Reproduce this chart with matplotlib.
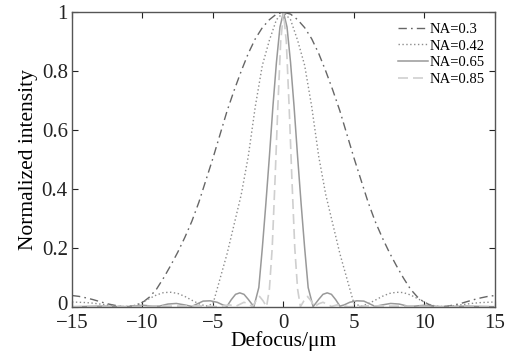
import numpy as np
import matplotlib.pyplot as plt
import matplotlib.transforms as mtransforms

plt.rcParams['font.family'] = ['Liberation Serif', 'DejaVu Serif']
plt.rcParams['mathtext.fontset'] = 'stix'

# values, one side of the focus (curves are symmetric)
z_03 = [0, 0.5, 1, 1.5, 2, 2.5, 3, 3.5, 4, 4.5, 5, 5.5, 6, 6.5, 7, 7.5, 8,
        8.5, 9, 9.5, 10, 10.5, 11, 11.5, 12, 12.5, 13, 13.5, 14, 14.5, 15]
i_03 = [1.0, 0.994, 0.975, 0.948, 0.91, 0.86, 0.80, 0.735, 0.665, 0.585, 0.505,
        0.43, 0.355, 0.29, 0.235, 0.185, 0.14, 0.098, 0.06, 0.033, 0.014,
        0.004, 0.0, 0.001, 0.005, 0.01, 0.017, 0.024, 0.03, 0.035, 0.038]

z_042 = [0, 0.5, 1, 1.5, 2, 2.5, 3, 3.5, 4, 4.5, 5, 5.5, 6, 6.5, 7, 7.5, 8,
         8.5, 9, 9.5, 10, 10.5, 11, 11.5, 12, 12.5, 13, 13.5, 14, 14.5, 15]
i_042 = [1.0, 0.975, 0.905, 0.82, 0.68, 0.51, 0.38, 0.28, 0.18, 0.095, 0.01,
         0.002, 0.01, 0.022, 0.035, 0.045, 0.049, 0.048, 0.04, 0.028, 0.015,
         0.005, 0.001, 0.001, 0.003, 0.006, 0.009, 0.012, 0.014, 0.015, 0.016]

z_065 = [0, 0.25, 0.5, 0.75, 1.0, 1.25, 1.5, 1.75, 2.1, 2.5, 2.8, 3.1, 3.4,
         3.7, 4.0, 4.3, 4.7, 5.2, 5.7, 6.1, 6.5, 7.0, 7.6, 8.2, 8.8, 9.3,
         10.0, 10.6, 11.2, 12, 13, 14, 15]
i_065 = [1.0, 0.95, 0.83, 0.68, 0.51, 0.35, 0.2, 0.065, 0.0, 0.025, 0.042,
         0.047, 0.042, 0.024, 0.002, 0.006, 0.015, 0.02, 0.019, 0.01, 0.001,
         0.006, 0.011, 0.009, 0.002, 0.002, 0.005, 0.002, 0.0, 0.001, 0.002,
         0.001, 0.0]

z_085 = [0, 0.2, 0.4, 0.6, 0.8, 1.0, 1.2, 1.45, 1.7, 1.95, 2.2, 2.5, 2.8,
         3.1, 3.4, 3.8, 4.2, 4.6, 6, 8, 10, 12, 15]
i_085 = [1.0, 0.9, 0.68, 0.43, 0.2, 0.06, 0.0, 0.02, 0.035, 0.02, 0.0, 0.01,
         0.015, 0.008, 0.001, 0.006, 0.004, 0.0, 0.003, 0.002, 0.001, 0.0, 0.0]

x_ticks = [-15, -10, -5, 0, 5, 10, 15]
x_labels = ['\u221215', '\u221210', '\u22125', '0', '5', '10', '15']
y_ticks = [0, 0.2, 0.4, 0.6, 0.8, 1]
y_labels = ['0', '0.2', '0.4', '0.6', '0.8', '1']


def both_sides(z, v):
    z = np.asarray(z, float)
    v = np.asarray(v, float)
    return np.concatenate([-z[:0:-1], z]), np.concatenate([v[:0:-1], v])


fig = plt.figure(figsize=(5.08, 3.52), dpi=100)
ax = fig.add_axes([0.1417, 0.1287, 0.8327, 0.8363])

x, y = both_sides(z_03, i_03)
ax.plot(x, y, color='#666666', lw=1.0, dashes=(6, 3, 1.2, 3), label='NA=0.3')
x, y = both_sides(z_042, i_042)
ax.plot(x, y, color='#8c8c8c', lw=1.0, dashes=(1, 1.8), label='NA=0.42')
x, y = both_sides(z_065, i_065)
ax.plot(x, y, color='#999999', lw=1.1, label='NA=0.65')
x, y = both_sides(z_085, i_085)
ax.plot(x, y, color='#cfcfcf', lw=1.2, dashes=(6, 3), label='NA=0.85')

ax.set_xlim(-15, 15)
ax.set_ylim(0, 1)
ax.set_xticks(x_ticks)
ax.set_xticklabels(x_labels)
ax.set_yticks(y_ticks)
ax.set_yticklabels(y_labels)
ax.tick_params(direction='in', length=4, width=0.8, top=True, right=True,
               labelsize=15, colors='#222222')
ax.tick_params(axis='x', pad=5)
ax.tick_params(axis='y', pad=3)
for s in ax.spines.values():
    s.set_color('#555555')
    s.set_linewidth(1.0)

# nudge the y "0" up a little so it clears the "-15" below it
lab0 = ax.get_yticklabels()[0]
lab0.set_transform(lab0.get_transform() +
                   mtransforms.ScaledTranslation(0, 4 / 100, fig.dpi_scale_trans))

ax.set_xlabel('Defocus/μm', fontsize=15.5, labelpad=-1)
ax.set_ylabel('Normalized intensity', fontsize=15.5, labelpad=3)

ax.legend(loc='upper right', frameon=False, fontsize=10.5, handlelength=2.1,
          handletextpad=0.1, labelspacing=0.25, borderaxespad=0.3,
          bbox_to_anchor=(1.0, 1.0))

fig.savefig('out.png', dpi=100)
